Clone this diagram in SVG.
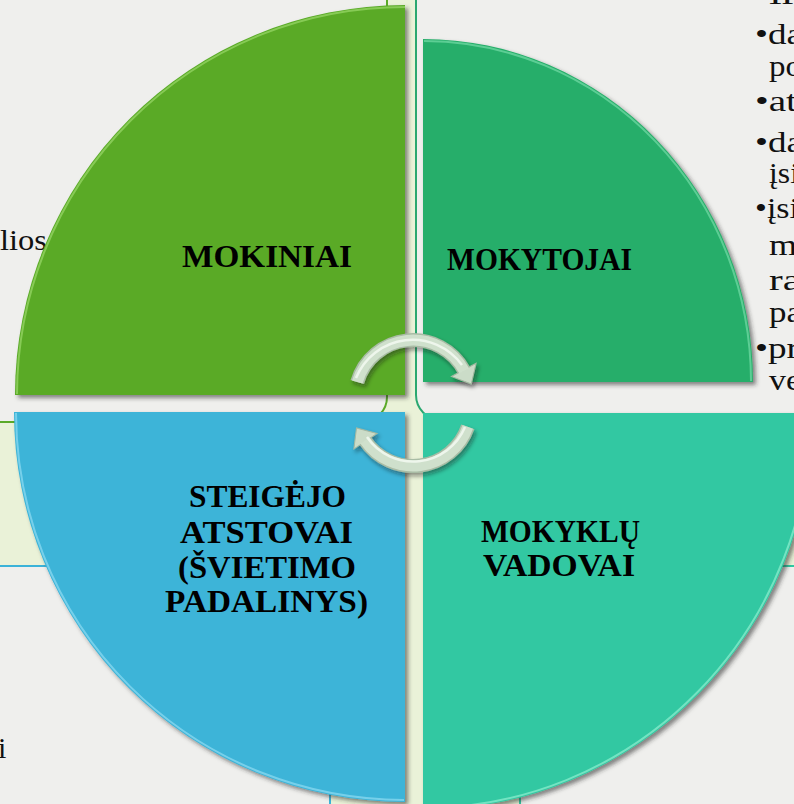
<svg xmlns="http://www.w3.org/2000/svg" width="794" height="804" viewBox="0 0 794 804">
<defs>
<filter id="sh" x="-5%" y="-5%" width="115%" height="115%">
<feDropShadow dx="3" dy="3" stdDeviation="2" flood-color="#2a2a2a" flood-opacity="0.55"/>
</filter>
<filter id="ash" x="-20%" y="-20%" width="140%" height="140%">
<feDropShadow dx="2" dy="3" stdDeviation="2" flood-color="#1a1a1a" flood-opacity="0.45"/>
</filter>
<marker id="head" markerUnits="userSpaceOnUse" orient="auto" overflow="visible" refX="0" refY="0" markerWidth="1" markerHeight="1">
<path d="M-1,-14 L15,0 L-1,14 Z" fill="#cbdcc8" stroke="#a5b8a1" stroke-width="1"/>
</marker>
</defs>
<style>
.q text{font-family:"Liberation Serif","Times New Roman",serif;font-weight:bold;font-size:31px;fill:#000}
.bg text{font-family:"Liberation Serif","Times New Roman",serif;font-size:30px;fill:#111}
.panel{fill:#efefed;stroke-width:2}
.hl{fill:none;stroke-width:2;opacity:.7}
.ab{fill:none;stroke:#a9bca5;stroke-width:14}
.af{fill:none;stroke:#cfe0cc;stroke-width:11}
.ah{fill:none;stroke:#eef6ec;stroke-width:2.5}
</style>
<g id="background" class="bg">
<rect width="794" height="804" fill="#eaf2d8"/>
<path class="panel" d="M-5,-5 H387 V397 A25,25 0 0 1 362,422 H-5 Z" stroke="#5aaa28"/>
<path class="panel" d="M800,-5 H416 V395 A25,25 0 0 0 441,420 H800 Z" stroke="#2aa870"/>
<path class="panel" d="M-5,566 H330 V810 H-5 Z" stroke="#3bb3d8"/>
<path class="panel" d="M520,566 H800 V810 H520 Z" stroke="#31c8a2"/>
<text x="0" y="250" textLength="47" lengthAdjust="spacingAndGlyphs">lios</text>
<text x="-2" y="758">i</text>
<text x="769" y="4" textLength="28" lengthAdjust="spacingAndGlyphs">ir</text>
<text x="755" y="44" textLength="48" lengthAdjust="spacingAndGlyphs">•da</text>
<text x="769" y="76" textLength="33" lengthAdjust="spacingAndGlyphs">po</text>
<text x="755" y="111" textLength="42" lengthAdjust="spacingAndGlyphs">•at</text>
<text x="755" y="152" textLength="48" lengthAdjust="spacingAndGlyphs">•da</text>
<text x="769" y="183" textLength="30" lengthAdjust="spacingAndGlyphs">įsi</text>
<text x="755" y="218" textLength="44" lengthAdjust="spacingAndGlyphs">•įsi</text>
<text x="769" y="255" textLength="28" lengthAdjust="spacingAndGlyphs">m</text>
<text x="769" y="290" textLength="32" lengthAdjust="spacingAndGlyphs">ra</text>
<text x="769" y="322" textLength="33" lengthAdjust="spacingAndGlyphs">pa</text>
<text x="755" y="358" textLength="44" lengthAdjust="spacingAndGlyphs">•pr</text>
<text x="769" y="390" textLength="32" lengthAdjust="spacingAndGlyphs">ve</text>
</g>
<g id="mokiniai" class="q">
<path d="M405,395 L15,395 A390,390 0 0 1 405,5 Z" fill="#5aaa28" filter="url(#sh)"/>
<path class="hl" d="M17,394 A388,388 0 0 1 405,7" stroke="#9ad86a"/>
<text x="182" y="267" textLength="170" lengthAdjust="spacingAndGlyphs">MOKINIAI</text>
</g>
<g id="mokytojai" class="q">
<path d="M423,382 L423,39 A330,343 0 0 1 753,382 Z" fill="#27ae6b" filter="url(#sh)"/>
<path class="hl" d="M424,41 A328,341 0 0 1 751,381" stroke="#74dba6"/>
<text x="447" y="270" textLength="185" lengthAdjust="spacingAndGlyphs">MOKYTOJAI</text>
</g>
<g id="steigejo" class="q">
<path d="M405,412 L405,802 A391,390 0 0 1 14,412 Z" fill="#3cb4d8" filter="url(#sh)"/>
<path class="hl" d="M404,800 A389,388 0 0 1 16,413" stroke="#8fdcf2"/>
<text x="189" y="507" textLength="157" lengthAdjust="spacingAndGlyphs">STEIGĖJO</text>
<text x="180" y="543" textLength="173" lengthAdjust="spacingAndGlyphs">ATSTOVAI</text>
<text x="178" y="578" textLength="178" lengthAdjust="spacingAndGlyphs">(ŠVIETIMO</text>
<text x="165" y="612" textLength="203" lengthAdjust="spacingAndGlyphs">PADALINYS)</text>
</g>
<g id="mokyklu-vadovai" class="q">
<path d="M423,413 L813,413 A390,397 0 0 1 423,810 Z" fill="#31c8a2" filter="url(#sh)"/>
<path class="hl" d="M811,414 A388,395 0 0 1 424,808" stroke="#8ff0d0"/>
<text x="481" y="542" textLength="159" lengthAdjust="spacingAndGlyphs">MOKYKLŲ</text>
<text x="483" y="576" textLength="152" lengthAdjust="spacingAndGlyphs">VADOVAI</text>
</g>
<g id="connectors" filter="url(#ash)">
<path class="ab" d="M357.3,382 A58,58 0 0 1 464.2,370.8" marker-end="url(#head)"/>
<path class="af" d="M357.3,382 A58,58 0 0 1 464.2,370.8"/>
<path class="ah" d="M356,378 A61,61 0 0 1 462,365"/>
<path class="ab" d="M467.8,426.9 A58,58 0 0 1 364.9,440.4" marker-end="url(#head)"/>
<path class="af" d="M467.8,426.9 A58,58 0 0 1 364.9,440.4"/>
<path class="ah" d="M465,427 A56,56 0 0 1 367,437"/>
</g>
</svg>
